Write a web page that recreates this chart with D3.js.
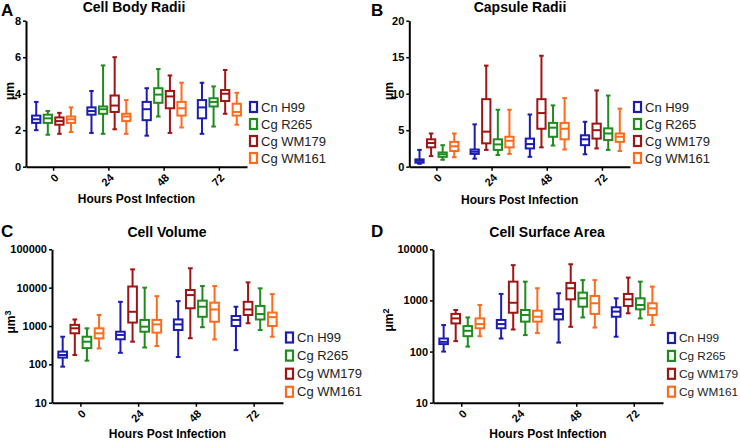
<!DOCTYPE html>
<html>
<head>
<meta charset="utf-8">
<script src="https://cdn.jsdelivr.net/npm/d3@7"></script>
<style>
  body { margin: 0; background: #fff; }
  svg { font-family: "Liberation Sans", Arial, sans-serif; }
</style>
</head>
<body>
<div id="chart"></div>
<script>
// categories and series
var hours = ["0", "24", "48", "72"];
var strains = ["Cn H99", "Cg R265", "Cg WM179", "Cg WM161"];
var colors = ["#1c1cb4", "#1e8c1e", "#a01414", "#ff6a1c"];

// box values per time point: [whisker low, q1, median, q3, whisker high]
var bodyH99   = [[2.0,2.4,2.6,2.8,3.55],[1.85,2.85,3.05,3.25,4.15],[1.7,2.55,3.15,3.55,4.3],[1.8,2.65,3.25,3.65,4.6]];
var bodyR265  = [[1.75,2.4,2.65,2.85,3.05],[1.8,2.9,3.15,3.3,5.55],[2.75,3.5,3.95,4.3,5.35],[2.2,3.3,3.55,3.75,4.4]];
var bodyWM179 = [[1.8,2.3,2.5,2.7,2.95],[2.05,3.0,3.35,3.9,6.0],[1.85,3.2,3.85,4.15,5.0],[2.9,3.6,4.0,4.2,5.3]];
var bodyWM161 = [[1.9,2.4,2.6,2.75,3.25],[1.8,2.5,2.75,2.9,3.65],[2.15,2.8,3.2,3.55,4.6],[2.3,2.8,3.0,3.45,4.05]];

var capH99   = [[0.4,0.55,0.8,1.0,2.3],[1.1,1.75,2.05,2.35,5.8],[1.35,2.5,3.1,3.85,7.15],[1.7,2.95,3.75,4.3,6.15]];
var capR265  = [[0.95,1.35,1.7,1.95,2.95],[1.6,2.3,3.05,3.75,7.8],[2.9,4.1,5.35,6.0,8.4],[2.3,3.65,4.55,5.25,9.75]];
var capWM179 = [[1.45,2.65,3.25,3.75,4.55],[2.3,3.2,4.8,9.25,13.85],[2.65,5.2,7.35,9.25,15.2],[2.5,3.85,5.0,5.9,10.45]];
var capWM161 = [[1.3,2.15,2.8,3.4,4.55],[1.75,2.65,3.55,4.1,7.8],[2.35,3.75,5.2,6.0,9.4],[2.15,3.4,4.1,4.55,7.95]];

var volH99   = [[87,150,175,215,525],[200,450,585,710,4270],[155,785,1100,1480,4450],[235,1000,1440,1820,3180]];
var volR265  = [[125,265,390,525,870],[275,710,960,1440,10000],[930,1740,3180,4580,11000],[785,1480,2050,3330,9600]];
var volWM179 = [[175,645,870,1070,1480],[390,1230,2350,10700,30000],[480,2900,6400,8700,32000],[1180,1940,2700,4270,13700]];
var volWM161 = [[260,475,645,870,1940],[300,670,1100,1440,6000],[445,1290,2700,4060,11000],[525,1000,1700,2240,6800]];

var areaH99   = [[100,140,155,180,330],[180,285,345,415,1340],[150,425,545,670,1380],[195,480,605,735,1100]];
var areaR265  = [[125,200,255,315,465],[210,385,520,650,2330],[465,755,1100,1420,2500],[445,670,815,1100,2330]];
var areaWM179 = [[160,355,445,545,650],[270,575,900,2330,4900],[305,1050,1730,2200,5100],[560,780,1050,1340,2800]];
var areaWM161 = [[200,285,345,445,815],[230,385,480,630,1730],[295,545,880,1220,2500],[330,520,700,880,1860]];

var linearTicksA = [0, 2, 4, 6, 8];
var linearTicksB = [0, 5, 10, 15, 20];
var logTicksC = [10, 100, 1000, 10000, 100000];
var logTicksD = [10, 100, 1000, 10000];

var W = 740, H = 440;
var svg = d3.select("#chart").append("svg")
    .attr("width", W)
    .attr("height", H);

// layout of the four panels
var panels = [
  {letter: "A", title: "Cell Body Radii", lx: 1, ly: 16, x0: 26, x1: 247, yTop: 20.7, yBot: 166.7,
   log: false, ticks: linearTicksA, yLabel: "μm", yLabelX: 10, yLabelY: 91, sup: "",
   titleX: 134, titleY: 12, xTitleY: 203, legX: 249, legY: 107, legStep: 17, legFont: 13,
   series: [bodyH99, bodyR265, bodyWM179, bodyWM161], order: [0, 1, 2, 3]},
  {letter: "B", title: "Capsule Radii", lx: 371, ly: 16, x0: 409.3, x1: 630, yTop: 20.7, yBot: 166.7,
   log: false, ticks: linearTicksB, yLabel: "μm", yLabelX: 389, yLabelY: 91, sup: "",
   titleX: 520, titleY: 12, xTitleY: 204, legX: 633, legY: 107, legStep: 17, legFont: 13,
   series: [capH99, capR265, capWM179, capWM161], order: [0, 2, 1, 3]},
  {letter: "C", title: "Cell Volume", lx: 1, ly: 237, x0: 52, x1: 283, yTop: 249.3, yBot: 402.7,
   log: true, ticks: logTicksC, yLabel: "μm", yLabelX: 11, yLabelY: 322, sup: "3",
   titleX: 167, titleY: 237, xTitleY: 438, legX: 285, legY: 337.5, legStep: 18.1, legFont: 13,
   series: [volH99, volR265, volWM179, volWM161], order: [0, 2, 1, 3]},
  {letter: "D", title: "Cell Surface Area", lx: 371, ly: 237, x0: 433, x1: 663, yTop: 249.3, yBot: 402.7,
   log: true, ticks: logTicksD, yLabel: "μm", yLabelX: 389, yLabelY: 320, sup: "2",
   titleX: 547, titleY: 237, xTitleY: 438, legX: 667, legY: 338, legStep: 17.9, legFont: 11.8,
   series: [areaH99, areaR265, areaWM179, areaWM161], order: [0, 2, 1, 3]}
];

panels.forEach(function(p) {
  var g = svg.append("g");

  var x = d3.scaleBand().domain(hours).range([p.x0, p.x1]).padding(0);
  var y = p.log
    ? d3.scaleLog().domain([p.ticks[0], p.ticks[p.ticks.length - 1]]).range([p.yBot, p.yTop])
    : d3.scaleLinear().domain([p.ticks[0], p.ticks[p.ticks.length - 1]]).range([p.yBot, p.yTop]);

  // panel letter and title
  g.append("text").attr("x", p.lx).attr("y", p.ly)
    .attr("font-size", 17).attr("font-weight", "bold").text(p.letter);
  g.append("text").attr("x", p.titleX).attr("y", p.titleY)
    .attr("text-anchor", "middle").attr("font-size", 14).attr("font-weight", "bold").text(p.title);

  // y axis
  var yAxis = g.append("g")
    .attr("transform", "translate(" + p.x0 + ",0)")
    .call(d3.axisLeft(y).tickValues(p.ticks).tickFormat(d3.format("d")).tickSize(3).tickSizeOuter(0).tickPadding(2));
  yAxis.selectAll("text").attr("font-size", 11).attr("font-weight", "bold").attr("fill", "#000");

  // x axis
  var xAxis = g.append("g")
    .attr("transform", "translate(0," + p.yBot + ")")
    .call(d3.axisBottom(x).tickSize(4).tickSizeOuter(0));
  xAxis.selectAll("text")
    .attr("x", 0).attr("y", 0).attr("dy", "0.35em")
    .attr("transform", "translate(3,9) rotate(-45)")
    .style("text-anchor", "end")
    .attr("font-size", 11).attr("font-weight", "bold").attr("fill", "#000");

  g.selectAll(".domain").attr("stroke", "#000").attr("stroke-width", 2);
  g.selectAll(".tick line").attr("stroke", "#000").attr("stroke-width", 1.5);

  // axis titles
  var yl = g.append("text")
    .attr("transform", "translate(" + p.yLabelX + "," + p.yLabelY + ") rotate(-90)")
    .attr("text-anchor", "middle").attr("dy", "0.35em")
    .attr("font-size", 12).attr("font-weight", "bold").text(p.yLabel);
  if (p.sup) {
    yl.append("tspan").attr("dy", "-0.5em").attr("font-size", 9).text(p.sup);
  }
  g.append("text").attr("x", (p.x0 + p.x1) / 2).attr("y", p.xTitleY)
    .attr("text-anchor", "middle").attr("font-size", 12).attr("font-weight", "bold")
    .text("Hours Post Infection");

  // boxes
  var bw = x.bandwidth();
  var step = bw * 0.21;
  var boxW = bw * 0.15;
  var capW = boxW * 0.55;
  p.order.forEach(function(si, k) {
    var s = p.series[si];
    var col = colors[si];
    var grp = g.append("g").attr("stroke", col).attr("stroke-width", 2).attr("fill", "none");
    var items = grp.selectAll("g.box").data(s).enter().append("g").attr("class", "box")
      .attr("transform", function(d, i) {
        return "translate(" + (x(hours[i]) + bw / 2 + (k - 1.5) * step) + ",0)";
      });
    items.append("line").attr("x1", 0).attr("x2", 0)
      .attr("y1", function(d) { return y(d[0]); })
      .attr("y2", function(d) { return y(d[4]); });
    items.append("line").attr("x1", -capW / 2).attr("x2", capW / 2)
      .attr("y1", function(d) { return y(d[0]); })
      .attr("y2", function(d) { return y(d[0]); });
    items.append("line").attr("x1", -capW / 2).attr("x2", capW / 2)
      .attr("y1", function(d) { return y(d[4]); })
      .attr("y2", function(d) { return y(d[4]); });
    items.append("rect").attr("x", -boxW / 2).attr("width", boxW)
      .attr("y", function(d) { return y(d[3]); })
      .attr("height", function(d) { return Math.max(1, y(d[1]) - y(d[3])); })
      .attr("fill", "#fff");
    items.append("line").attr("x1", -boxW / 2).attr("x2", boxW / 2)
      .attr("y1", function(d) { return y(d[2]); })
      .attr("y2", function(d) { return y(d[2]); });
  });

  // legend
  var leg = g.selectAll("g.leg").data(strains).enter().append("g").attr("class", "leg")
    .attr("transform", function(d, i) { return "translate(" + p.legX + "," + (p.legY + i * p.legStep) + ")"; });
  leg.append("rect").attr("x", 1).attr("y", -5).attr("width", 7).attr("height", 10)
    .attr("fill", "#fff").attr("stroke", function(d, i) { return colors[i]; }).attr("stroke-width", 2.2);
  leg.append("text").attr("x", 12).attr("dy", "0.36em")
    .attr("font-size", p.legFont).attr("fill", "#222").text(function(d) { return d; });
});
</script>
</body>
</html>
